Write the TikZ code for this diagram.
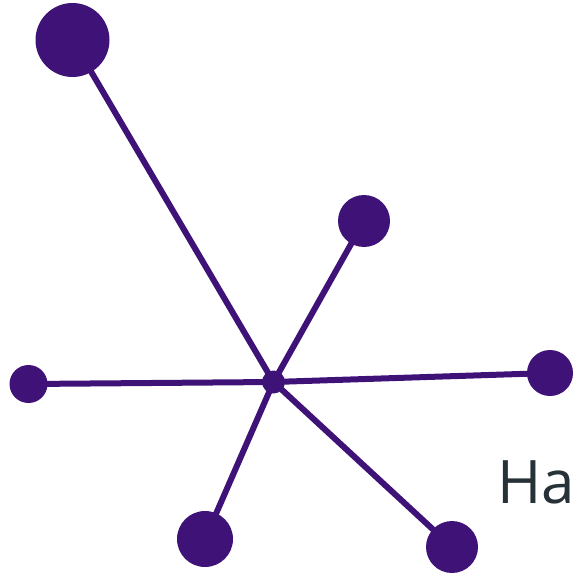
\documentclass[tikz,border=0pt]{standalone}
\usepackage{fontspec}
\usetikzlibrary{backgrounds}
\newfontfamily\labelfont{Open Sans}
\definecolor{atomcol}{HTML}{3F1278}
\definecolor{textcol}{HTML}{263238}
\begin{document}
\begin{tikzpicture}[x=1pt,y=-1pt,
  bond/.style={draw=atomcol,line width=6pt},
  atom/.style={circle,fill=atomcol,inner sep=0pt,minimum size=#1}]
\useasboundingbox (0,0) rectangle (573,575);
% central atom and its six ligands
\node[atom=23pt] (c) at (273.5,382) {};
\node[atom=74pt] (a1) at (72.5,40) {};
\node[atom=52pt] (a2) at (364,221) {};
\node[atom=46pt] (a3) at (550,373) {};
\node[atom=38pt] (a4) at (28.5,384) {};
\node[atom=56pt] (a5) at (205,539) {};
\node[atom=52pt] (a6) at (452,547) {};
% bonds go beneath the atoms
\begin{scope}[on background layer]
\foreach \n in {a1,a2,a3,a4,a5,a6} \draw[bond] (c.center) -- (\n.center);
\end{scope}
\node[anchor=base west,inner sep=0pt,text=textcol,font=\labelfont\fontsize{60}{60}\selectfont] (lbl) at (497,503) {Ha};
\end{tikzpicture}
\end{document}
